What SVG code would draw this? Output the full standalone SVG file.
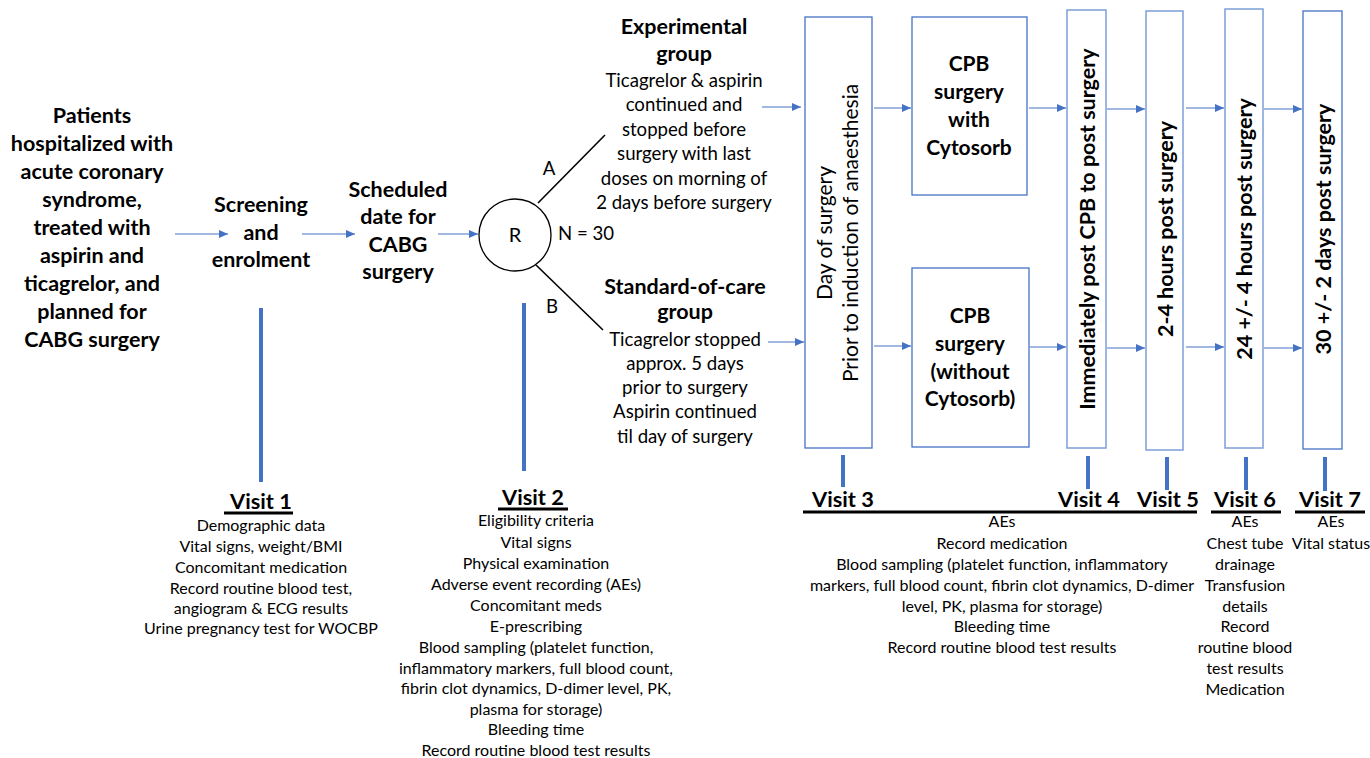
<svg xmlns="http://www.w3.org/2000/svg" width="1370" height="758" viewBox="0 0 1370 758">
<style>
text{font-family:Lato,"Open Sans","Liberation Sans",sans-serif;fill:#000;text-anchor:middle}
.b{font-weight:bold;font-size:21.5px}
.c{font-weight:bold;font-size:21px}
.n16{font-size:18.6px}
.n14{font-size:16px}
.n18{font-size:21px}
.vl{font-weight:bold;font-size:21.8px}
.box{fill:#fff;stroke:#4472C4;stroke-width:1.3}
.boxl{fill:#fff;stroke:#7C9ED9;stroke-width:1.5}
.arr{stroke:#4472C4;stroke-width:1.2;fill:none;marker-end:url(#ah)}
.bar{stroke:#4472C4;stroke-width:4}
.ul{stroke:#000;stroke-width:3}
.blk{stroke:#000;stroke-width:1.6;fill:none}
</style>
<defs>
<marker id="ah" markerUnits="userSpaceOnUse" markerWidth="9" markerHeight="8" refX="9" refY="4" orient="auto">
<path d="M0,0 L9,4 L0,8 z" fill="#4472C4"/>
</marker>
</defs>
<rect width="1370" height="758" fill="#fff"/>

<g id="connectors">
<line class="arr" x1="175" y1="234" x2="228" y2="234"/>
<line class="arr" x1="302" y1="234" x2="355" y2="234"/>
<line class="arr" x1="438" y1="234" x2="478" y2="234"/>
<line class="blk" x1="538" y1="203" x2="605" y2="135"/>
<line class="blk" x1="536" y1="265" x2="603" y2="330"/>
<line class="arr" x1="762" y1="107" x2="801" y2="107"/>
<line class="arr" x1="768" y1="342" x2="804" y2="342"/>
<line class="arr" x1="874" y1="108" x2="911" y2="108"/>
<line class="arr" x1="874" y1="346" x2="911" y2="346"/>
<line class="arr" x1="1029" y1="108" x2="1066" y2="108"/>
<line class="arr" x1="1030" y1="347" x2="1066" y2="347"/>
<line class="arr" x1="1107" y1="109" x2="1145" y2="109"/>
<line class="arr" x1="1107" y1="348" x2="1145" y2="348"/>
<line class="arr" x1="1186" y1="108" x2="1224" y2="108"/>
<line class="arr" x1="1186" y1="347" x2="1224" y2="347"/>
<line class="arr" x1="1264" y1="109" x2="1302" y2="109"/>
<line class="arr" x1="1264" y1="348" x2="1302" y2="348"/>
<line class="bar" x1="261" y1="308" x2="261" y2="482"/>
<line class="bar" x1="524" y1="303" x2="524" y2="471"/>
<line class="bar" x1="843" y1="455" x2="843" y2="487"/>
<line class="bar" x1="1088" y1="456" x2="1088" y2="489"/>
<line class="bar" x1="1167" y1="457" x2="1167" y2="490"/>
<line class="bar" x1="1246" y1="457" x2="1246" y2="490"/>
<line class="bar" x1="1325" y1="457" x2="1325" y2="491"/>
</g>

<g id="patients">
<text class="b" x="92" y="123">Patients</text>
<text class="b" x="92" y="151">hospitalized with</text>
<text class="b" x="92" y="179">acute coronary</text>
<text class="b" x="92" y="207">syndrome,</text>
<text class="b" x="92" y="235">treated with</text>
<text class="b" x="92" y="263">aspirin and</text>
<text class="b" x="92" y="291">ticagrelor, and</text>
<text class="b" x="92" y="319">planned for</text>
<text class="b" x="92" y="347">CABG surgery</text>
</g>

<g id="screening">
<text class="b" x="261" y="212">Screening</text>
<text class="b" x="261" y="240">and</text>
<text class="b" x="261" y="267">enrolment</text>
</g>

<g id="scheduled">
<text class="b" x="398" y="197">Scheduled</text>
<text class="b" x="398" y="224">date for</text>
<text class="b" x="398" y="252">CABG</text>
<text class="b" x="398" y="279">surgery</text>
</g>

<g id="randomisation">
<circle cx="515" cy="235" r="36" fill="#fff" stroke="#000" stroke-width="1.3"/>
<text x="515" y="242" style="font-size:20px">R</text>
<text class="n16" x="549" y="175">A</text>
<text class="n16" x="552" y="313">B</text>
<text class="n16" x="558" y="240" style="text-anchor:start">N = 30</text>
</g>

<g id="experimental">
<text class="b" x="684" y="34">Experimental</text>
<text class="b" x="684" y="61">group</text>
<text class="n16" x="684" y="87">Ticagrelor &amp; aspirin</text>
<text class="n16" x="684" y="111">continued and</text>
<text class="n16" x="684" y="136">stopped before</text>
<text class="n16" x="684" y="160">surgery with last</text>
<text class="n16" x="684" y="185">doses on morning of</text>
<text class="n16" x="684" y="209">2 days before surgery</text>
</g>

<g id="standard">
<text class="b" x="685" y="294">Standard-of-care</text>
<text class="b" x="685" y="319">group</text>
<text class="n16" x="685" y="346">Ticagrelor stopped</text>
<text class="n16" x="685" y="370">approx. 5 days</text>
<text class="n16" x="685" y="394">prior to surgery</text>
<text class="n16" x="685" y="418">Aspirin continued</text>
<text class="n16" x="685" y="443">til day of surgery</text>
</g>

<g id="day-of-surgery">
<rect class="box" x="805" y="17" width="67" height="431"/>
<text class="n18" transform="translate(832,233) rotate(-90)">Day of surgery</text>
<text class="n18" transform="translate(858,233) rotate(-90)">Prior to induction of anaesthesia</text>
</g>

<g id="cpb-with">
<rect class="box" x="912" y="17" width="115" height="178"/>
<text class="c" x="969" y="71">CPB</text>
<text class="c" x="969" y="99">surgery</text>
<text class="c" x="969" y="127">with</text>
<text class="c" x="969" y="155">Cytosorb</text>
</g>

<g id="cpb-without">
<rect class="box" x="912" y="268" width="117" height="179"/>
<text class="c" x="970" y="323">CPB</text>
<text class="c" x="970" y="351">surgery</text>
<text class="c" x="970" y="379">(without</text>
<text class="c" x="970" y="406">Cytosorb)</text>
</g>

<g id="immediately">
<rect class="boxl" x="1067" y="10" width="39" height="438"/>
<text class="b" transform="translate(1095,229) rotate(-90)">Immediately post CPB to post surgery</text>
</g>

<g id="hours-2-4">
<rect class="boxl" x="1146" y="11" width="37" height="439"/>
<text class="b" transform="translate(1173,229) rotate(-90)">2-4 hours post surgery</text>
</g>

<g id="hours-24">
<rect class="boxl" x="1225" y="9" width="38" height="439"/>
<text class="b" transform="translate(1252,229) rotate(-90)">24 +/- 4 hours post surgery</text>
</g>

<g id="days-30">
<rect class="box" x="1303" y="11" width="39" height="438"/>
<text class="b" transform="translate(1331,229) rotate(-90)">30 +/- 2 days post surgery</text>
</g>

<g id="visit1">
<text class="vl" x="261" y="509">Visit 1</text>
<line class="ul" x1="224" y1="513" x2="293" y2="513"/>
<text class="n14" x="261" y="531">Demographic data</text>
<text class="n14" x="261" y="552">Vital signs, weight/BMI</text>
<text class="n14" x="261" y="573">Concomitant medication</text>
<text class="n14" x="261" y="594">Record routine blood test,</text>
<text class="n14" x="261" y="614">angiogram &amp; ECG results</text>
<text class="n14" x="261" y="634">Urine pregnancy test for WOCBP</text>
</g>

<g id="visit2">
<text class="vl" x="533" y="505">Visit 2</text>
<line class="ul" x1="498" y1="509" x2="568" y2="509"/>
<text class="n14" x="536" y="526">Eligibility criteria</text>
<text class="n14" x="536" y="548">Vital signs</text>
<text class="n14" x="536" y="569">Physical examination</text>
<text class="n14" x="536" y="590">Adverse event recording (AEs)</text>
<text class="n14" x="536" y="611">Concomitant meds</text>
<text class="n14" x="536" y="632">E-prescribing</text>
<text class="n14" x="536" y="653">Blood sampling (platelet function,</text>
<text class="n14" x="536" y="674">inflammatory markers, full blood count,</text>
<text class="n14" x="536" y="694">fibrin clot dynamics, D-dimer level, PK,</text>
<text class="n14" x="536" y="715">plasma for storage)</text>
<text class="n14" x="536" y="735">Bleeding time</text>
<text class="n14" x="536" y="756">Record routine blood test results</text>
</g>

<g id="visit3-5">
<text class="vl" x="843" y="507">Visit 3</text>
<text class="vl" x="1089" y="507">Visit 4</text>
<text class="vl" x="1168" y="507">Visit 5</text>
<line class="ul" x1="803" y1="512" x2="1197" y2="512"/>
<text class="n14" x="1002" y="527">AEs</text>
<text class="n14" x="1002" y="549">Record medication</text>
<text class="n14" x="1002" y="570">Blood sampling (platelet function, inflammatory</text>
<text class="n14" x="1002" y="591">markers, full blood count, fibrin clot dynamics, D-dimer</text>
<text class="n14" x="1002" y="612">level, PK, plasma for storage)</text>
<text class="n14" x="1002" y="632">Bleeding time</text>
<text class="n14" x="1002" y="653">Record routine blood test results</text>
</g>

<g id="visit6">
<text class="vl" x="1245" y="507">Visit 6</text>
<line class="ul" x1="1211" y1="512" x2="1281" y2="512"/>
<text class="n14" x="1245" y="527">AEs</text>
<text class="n14" x="1245" y="549">Chest tube</text>
<text class="n14" x="1245" y="570">drainage</text>
<text class="n14" x="1245" y="591">Transfusion</text>
<text class="n14" x="1245" y="612">details</text>
<text class="n14" x="1245" y="632">Record</text>
<text class="n14" x="1245" y="653">routine blood</text>
<text class="n14" x="1245" y="674">test results</text>
<text class="n14" x="1245" y="695">Medication</text>
</g>

<g id="visit7">
<text class="vl" x="1330" y="507">Visit 7</text>
<line class="ul" x1="1295" y1="512" x2="1365" y2="512"/>
<text class="n14" x="1331" y="527">AEs</text>
<text class="n14" x="1331" y="549">Vital status</text>
</g>
</svg>
